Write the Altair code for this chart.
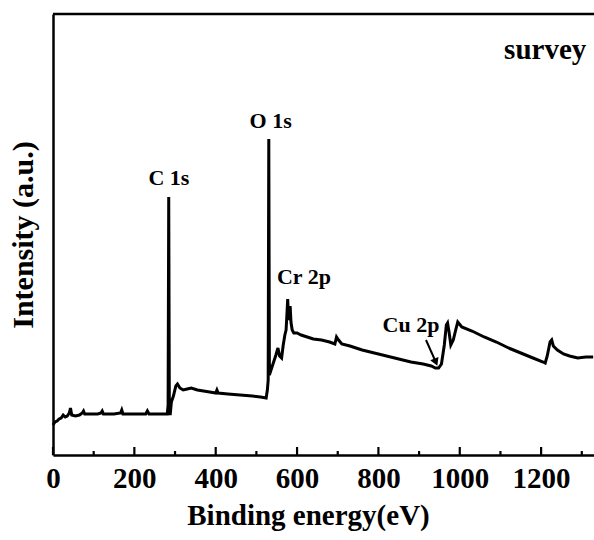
import altair as alt
import pandas as pd

# Binding energy (eV) and intensity (arbitrary units)
energy = [0, 5, 10, 15, 20, 25, 30, 35, 40, 43, 46, 55, 65, 72, 75, 78, 90, 110, 118, 121, 124,
          150, 166, 169, 172, 200, 228, 232, 236, 260, 281, 283, 284.5, 286, 288, 291, 296, 302,
          306, 312, 320, 330, 340, 355, 370, 385, 400, 403, 406, 430, 460, 490, 510, 524, 527,
          529, 530.5, 532, 536, 540, 548, 553, 557, 562, 566, 570, 573, 575, 577, 579, 581, 583,
          585, 588, 592, 600, 610, 625, 640, 660, 680, 693, 697, 702, 710, 730, 760, 790, 820,
          850, 880, 910, 930, 940, 948, 955, 962, 967, 970, 974, 978, 984, 990, 995, 999, 1005,
          1030, 1060, 1090, 1120, 1150, 1180, 1205, 1210, 1215, 1222, 1226, 1230, 1240, 1255,
          1270, 1290, 1310, 1328]
intensity = [30, 33, 34, 36, 37, 40, 38, 39, 42, 47, 40, 39, 40, 42, 44, 41, 41, 41, 42, 44, 41,
             41, 42, 45, 41, 41, 41, 44, 41, 41, 41, 50, 258, 50, 40, 53, 59, 69,
             71, 67, 65, 66, 67, 65, 64, 63, 62, 65, 62, 61, 60, 59, 58, 57, 65,
             75, 316, 80, 85, 90, 100, 107, 99, 97, 110, 120, 125, 140, 156, 135, 143, 149,
             133, 125, 122, 122, 120, 118, 116, 115, 113, 111, 118, 115, 111, 109, 105, 102, 99,
             96, 93, 91, 89, 87, 87, 91, 110, 130, 132, 122, 110, 115, 125, 133, 131, 128,
             124, 118, 113, 107, 102, 97, 93, 92, 99, 113, 115, 109, 105, 101,
             99, 97, 98, 98]

major_ticks = [0, 200, 400, 600, 800, 1000, 1200]
minor_ticks = [100, 300, 500, 700, 900, 1100, 1300]

label_text = ["survey", "O 1s", "C 1s", "Cr 2p", "Cu 2p"]
label_x = [1210, 535, 285, 617, 880]
label_y = [405, 334, 277, 178, 130]
label_size = [29, 22, 22, 22, 22]

arrow_x = [917]
arrow_y = [115]
arrow_x2 = [940]
arrow_y2 = [94]

W, H = 541, 441
FONT = "Liberation Serif"
XMAX = 1330
YMAX = 441

xs = alt.Scale(domain=[0, XMAX], nice=False, zero=False)
ys = alt.Scale(domain=[0, YMAX], nice=False, zero=False)

spec = pd.DataFrame({"energy": energy, "intensity": intensity})

line = alt.Chart(spec).mark_line(color="black", strokeWidth=3, strokeJoin="miter").encode(
    x=alt.X("energy:Q", scale=xs,
            axis=alt.Axis(title="Binding energy(eV)", values=major_ticks, format="d",
                          ticks=False, grid=False, domainColor="black", domainWidth=2.5,
                          labelFont=FONT, labelFontSize=29, labelFontWeight="bold",
                          labelColor="black", labelPadding=9, labelFlush=False,
                          titleFont=FONT, titleFontSize=29, titleFontWeight="bold",
                          titleColor="black", titlePadding=8, titleX=255)),
    y=alt.Y("intensity:Q", scale=ys,
            axis=alt.Axis(title="Intensity (a.u.)", labels=False, ticks=False, grid=False,
                          domainColor="black", domainWidth=2.5,
                          titleFont=FONT, titleFontSize=30, titleFontWeight="bold",
                          titleColor="black", titlePadding=15)),
)

major = alt.Chart(pd.DataFrame({"t": major_ticks})).mark_rule(color="black", strokeWidth=2.2).encode(
    x=alt.X("t:Q", scale=xs), y=alt.value(H), y2=alt.value(H - 8))
minor = alt.Chart(pd.DataFrame({"t": minor_ticks})).mark_rule(color="black", strokeWidth=2.2).encode(
    x=alt.X("t:Q", scale=xs), y=alt.value(H), y2=alt.value(H - 4))

top = alt.Chart(pd.DataFrame({"a": [0]})).mark_rule(color="black", strokeWidth=2.5).encode(
    x=alt.value(0), x2=alt.value(W + 5), y=alt.value(0))

labels = alt.Chart(pd.DataFrame({"text": label_text, "x": label_x, "y": label_y,
                                 "s": label_size})).mark_text(
    font=FONT, fontWeight="bold", color="black", align="center", baseline="middle").encode(
    x=alt.X("x:Q", scale=xs), y=alt.Y("y:Q", scale=ys), text="text:N",
    size=alt.Size("s:Q", scale=None, legend=None))

arrow = alt.Chart(pd.DataFrame({"x": arrow_x, "y": arrow_y, "x2": arrow_x2, "y2": arrow_y2})).mark_rule(
    color="black", strokeWidth=2).encode(
    x=alt.X("x:Q", scale=xs), y=alt.Y("y:Q", scale=ys), x2="x2:Q", y2="y2:Q")
head = alt.Chart(pd.DataFrame({"x": arrow_x2, "y": arrow_y2})).mark_point(
    shape="triangle", filled=True, color="black", size=80, angle=157, opacity=1).encode(
    x=alt.X("x:Q", scale=xs), y=alt.Y("y:Q", scale=ys))

chart = alt.layer(line, major, minor, top, labels, arrow, head).properties(
    width=W, height=H,
    autosize=alt.AutoSizeParams(type="none"),
    padding={"left": 53, "top": 14, "right": 0, "bottom": 85},
).configure_view(stroke=None).configure(background="white")

chart.save("out.html", embed_options={"renderer": "svg", "actions": False})
